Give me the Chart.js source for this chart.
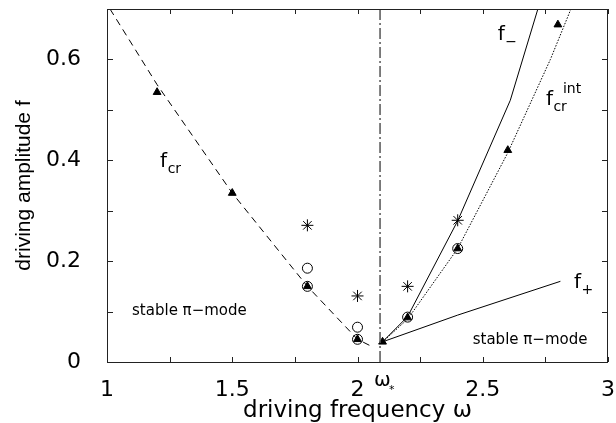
<!DOCTYPE html>
<html>
<head>
<meta charset="utf-8">
<script src="https://cdn.jsdelivr.net/npm/chart.js@4/dist/chart.umd.min.js"></script>
<style>
  html, body { margin: 0; padding: 0; background: #fff; }
</style>
</head>
<body>
<canvas id="chart" width="616" height="423"></canvas>
<script>
// curve f_cr (dashed)
const crX = [1.012, 1.2, 1.5, 1.8, 2.0, 2.06];
const crY = [0.70, 0.55, 0.335, 0.15, 0.045, 0.03];
// curve f_- (solid)
const fmX = [2.1, 2.2, 2.4, 2.61, 2.72];
const fmY = [0.04, 0.09, 0.28, 0.519, 0.70];
// curve f_cr^int (dotted)
const fiX = [2.1, 2.2, 2.4, 2.6, 2.77, 2.852];
const fiY = [0.04, 0.085, 0.225, 0.415, 0.60, 0.70];
// curve f_+ (solid)
const fpX = [2.1, 2.4, 2.81];
const fpY = [0.04, 0.093, 0.16];
// markers
const triX = [1.2, 1.5, 1.8, 2.0, 2.1, 2.2, 2.4, 2.6, 2.8];
const triY = [0.535, 0.335, 0.15, 0.045, 0.04, 0.088, 0.225, 0.42, 0.669];
const circX = [1.8, 1.8, 2.0, 2.0, 2.2, 2.4];
const circY = [0.186, 0.15, 0.069, 0.045, 0.089, 0.225];
const starX = [1.8, 2.0, 2.2, 2.4];
const starY = [0.271, 0.131, 0.15, 0.281];
// omega_* line
const omegaStar = 2.09;
const yMin = 0, yMax = 0.7;
const xMin = 1, xMax = 3;

const pts = (xs, ys) => xs.map((x, i) => ({x: x, y: ys[i]}));

function lineSet(xs, ys, dash, color, width) {
    return {
        data: pts(xs, ys),
        showLine: true,
        borderColor: color || '#000',
        borderWidth: width || 1,
        borderDash: dash,
        pointRadius: 0,
        fill: false
    };
}

function markSet(xs, ys, style, r, fill) {
    return {
        data: pts(xs, ys),
        showLine: false,
        pointStyle: style,
        pointRadius: r,
        pointBackgroundColor: fill,
        pointBorderColor: '#000',
        pointBorderWidth: 1
    };
}

// ticks pointing inward on all four sides + frame
const frameTicks = {
    id: 'frameTicks',
    afterDraw(chart) {
        const c = chart.ctx, a = chart.chartArea;
        const sx = chart.scales.x, sy = chart.scales.y;
        c.save();
        c.strokeStyle = '#222';
        c.lineWidth = 1;
        c.strokeRect(a.left + 0.5, a.top + 0.5, a.right - a.left - 1, a.bottom - a.top);
        c.beginPath();
        sx.ticks.forEach(t => {
            const px = Math.round(sx.getPixelForValue(t.value)) + 0.5;
            c.moveTo(px, a.bottom); c.lineTo(px, a.bottom - 5);
            c.moveTo(px, a.top); c.lineTo(px, a.top + 5);
        });
        sy.ticks.forEach(t => {
            const py = Math.round(sy.getPixelForValue(t.value)) + 0.5;
            c.moveTo(a.left, py); c.lineTo(a.left + 6, py);
            c.moveTo(a.right, py); c.lineTo(a.right - 6, py);
        });
        c.stroke();
        c.restore();
    }
};

// curve names and region labels
const notes = {
    id: 'notes',
    afterDatasetsDraw(chart) {
        const c = chart.ctx;
        const sx = chart.scales.x, sy = chart.scales.y;
        const fam = '"DejaVu Sans", sans-serif';
        c.save();
        c.fillStyle = '#000';
        c.textBaseline = 'alphabetic';
        c.textAlign = 'left';

        function label(x, y, main, sub, sup, size) {
            const px = sx.getPixelForValue(x), py = sy.getPixelForValue(y);
            c.font = size + 'px ' + fam;
            c.fillText(main, px, py);
            const w = c.measureText(main).width;
            if (sub) {
                c.font = Math.round(size * 0.68) + 'px ' + fam;
                c.fillText(sub, px + w + 0.5, py + 6);
            }
            if (sup) {
                c.font = Math.round(size * 0.68) + 'px ' + fam;
                c.fillText(sup, px + w + 10, py - 12);
            }
        }
        label(1.212, 0.386, 'f', 'cr', null, 20);
        label(2.56, 0.638, 'f', '\u2212', null, 20);
        label(2.752, 0.509, 'f', 'cr', 'int', 20);
        label(2.864, 0.1465, 'f', '+', null, 20);

        c.font = '15px ' + fam;
        c.fillText('stable \u03c0\u2212mode', sx.getPixelForValue(1.1), sy.getPixelForValue(0.093));
        c.fillText('stable \u03c0\u2212mode', sx.getPixelForValue(2.46), sy.getPixelForValue(0.036));

        // omega_* under the axis
        const ox = sx.getPixelForValue(omegaStar) - 6;
        c.font = '20px ' + fam;
        c.fillText('\u03c9', ox, 386);
        c.font = '11px ' + fam;
        c.fillText('*', ox + 15, 393);
        c.restore();
    }
};

new Chart(document.getElementById('chart'), {
    type: 'scatter',
    data: {
        datasets: [
            lineSet([omegaStar, omegaStar], [yMin, yMax], [11, 3, 2, 3], '#555', 1.5),
            lineSet(crX, crY, [7, 5]),
            lineSet(fmX, fmY, []),
            lineSet(fiX, fiY, [1.5, 1.5]),
            lineSet(fpX, fpY, []),
            markSet(circX, circY, 'circle', 5, 'rgba(255,255,255,0)'),
            markSet(triX, triY, 'triangle', 4.5, '#000'),
            markSet(starX, starY, 'star', 6, '#000')
        ]
    },
    options: {
        responsive: false,
        animation: false,
        layout: { padding: { top: 9, right: 8, left: 0, bottom: 0 } },
        plugins: { legend: { display: false }, tooltip: { enabled: false } },
        scales: {
            x: {
                type: 'linear',
                min: xMin, max: xMax,
                afterFit: s => { s.height = 61; s.paddingLeft = 0; s.paddingRight = 0; },
                grid: { display: false },
                border: { display: false },
                ticks: {
                    stepSize: 0.25,
                    padding: 7,
                    maxRotation: 0,
                    autoSkip: false,
                    color: '#000',
                    font: { family: 'DejaVu Sans', size: 22 },
                    callback: v => Math.round(v * 4) % 2 === 0 ? String(Math.round(v * 10) / 10) : ''
                },
                title: {
                    display: true,
                    text: 'driving frequency \u03c9',
                    color: '#000',
                    font: { family: 'DejaVu Sans', size: 23, lineHeight: 1.2 },
                    padding: { top: 0, bottom: -2 }
                }
            },
            y: {
                type: 'linear',
                min: yMin, max: yMax,
                afterFit: s => { s.width = 107; s.paddingTop = 0; s.paddingBottom = 0; },
                grid: { display: false },
                border: { display: false },
                ticks: {
                    stepSize: 0.1,
                    padding: 18,
                    autoSkip: false,
                    color: '#000',
                    font: { family: 'DejaVu Sans', size: 22 },
                    callback: v => Math.round(v * 10) % 2 === 0 ? String(Math.round(v * 10) / 10) : ''
                },
                title: {
                    display: true,
                    text: 'driving amplitude f',
                    color: '#000',
                    font: { family: 'Liberation Sans', size: 21, lineHeight: 1.2 },
                    padding: { top: 12, bottom: 0 }
                }
            }
        }
    },
    plugins: [frameTicks, notes]
});
</script>
</body>
</html>
